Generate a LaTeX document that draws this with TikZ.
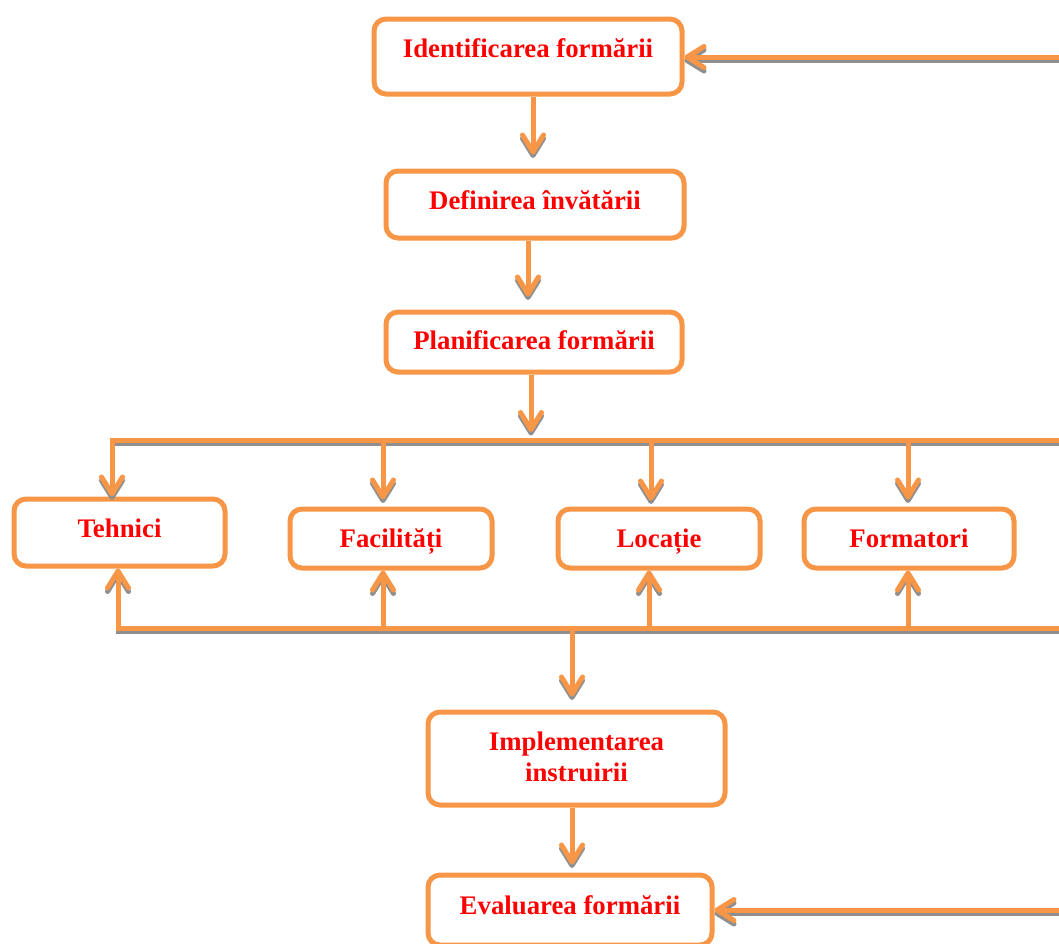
\documentclass[tikz,border=0pt]{standalone}
\usepackage{fontspec}
\setmainfont{Liberation Serif}
\usetikzlibrary{arrows.meta}
\definecolor{boxorange}{HTML}{F79646}
\definecolor{labelred}{HTML}{FF0000}
\definecolor{shade}{HTML}{8F8F8F}
\tikzset{
  stepbox/.style={draw=boxorange, line width=5pt, rounded corners=12pt,
    inner sep=0pt, outer sep=2.5pt, fill=white},
  lbl/.style={anchor=base, text=labelred, inner sep=0pt,
    font=\fontsize{26.8}{31}\selectfont\bfseries},
  conn/.style={draw=boxorange, line width=5pt,
    -{Straight Barb[length=17pt,width=21pt,round]}},
  connshadow/.style={draw=shade, line width=5pt,
    -{Straight Barb[length=17pt,width=21pt,round]}},
}
% every connector of the chart; the argument is the line style
\newcommand\chartconnectors[1]{%
  % main sequence
  \draw[#1, shorten >=14pt] ([xshift=5pt]b1.south) -- ([xshift=5pt]b1.south |- b2.north);
  \draw[#1, shorten >=13pt] ([xshift=-7pt]b2.south) -- ([xshift=-7pt]b2.south |- b3.north);
  \draw[#1, shorten >=8pt] ([xshift=-3pt]b3.south) -- ([xshift=-3pt]b3.south |- d4);
  % distribution rail and drops
  \draw[#1] (topR) -- (d4) -- (d4 |- b4.north);
  \draw[#1, shorten >=7pt] (d5) -- (d5 |- b5.north);
  \draw[#1, shorten >=6pt] (d6) -- (d6 |- b6.north);
  \draw[#1, shorten >=7pt] (d7) -- (d7 |- b7.north);
  % collection rail and rises
  \draw[#1] (botR) -- (u4) -- (u4 |- b4.south);
  \draw[#1] (u5) -- (u5 |- b5.south);
  \draw[#1] (u6) -- (u6 |- b6.south);
  \draw[#1] (u7) -- (u7 |- b7.south);
  \draw[#1, shorten >=13pt] (dn) -- (dn |- b8.north);
  \draw[#1, shorten >=8pt] ([xshift=-4.5pt]b8.south) -- ([xshift=-4.5pt]b8.south |- b9.north);
  % feedback arrows
  \draw[#1] (fb1) -- (b1.east |- fb1);
  \draw[#1] (fb2) -- (b9.east |- fb2);
}
\begin{document}
\begin{tikzpicture}[x=1pt, y=-1pt]
\useasboundingbox (0,0) rectangle (1059,943);
\clip (0,0) rectangle (1059,943);

% boxes
\node[stepbox, minimum width=308pt, minimum height=75pt] (b1) at (528,56.5) {};
\node[stepbox, minimum width=298pt, minimum height=67pt] (b2) at (535,204.5) {};
\node[stepbox, minimum width=296pt, minimum height=60pt] (b3) at (534,342) {};
\node[stepbox, minimum width=211pt, minimum height=67pt] (b4) at (119.5,532.5) {};
\node[stepbox, minimum width=202pt, minimum height=59pt] (b5) at (391,538.5) {};
\node[stepbox, minimum width=202pt, minimum height=59pt] (b6) at (659,538.5) {};
\node[stepbox, minimum width=210pt, minimum height=59pt] (b7) at (909,538.5) {};
\node[stepbox, minimum width=297pt, minimum height=93pt] (b8) at (576.5,758.5) {};
\node[stepbox, minimum width=284pt, minimum height=70pt] (b9) at (570,910) {};

% labels
\node[lbl] (t1) at (528,57) {Identificarea formării};
\node[lbl] (t2) at (535,209) {Definirea învătării};
\node[lbl] (t3) at (534,349) {Planificarea formării};
\node[lbl] (t4) at (119.5,537) {Tehnici};
\node[lbl] (t5) at (391,547) {Facilități};
\node[lbl] (t6) at (659,547) {Locație};
\node[lbl] (t7) at (909,547) {Formatori};
\node[lbl] (t8a) at (576.5,750) {Implementarea};
\node[lbl] (t8b) at (576.5,781) {instruirii};
\node[lbl] (t9) at (570,914) {Evaluarea formării};

% rail junction points
\coordinate (topR) at (1075,440);
\coordinate (botR) at (1075,628);
\coordinate (d4) at (112,440);
\coordinate (d5) at (383,440);
\coordinate (d6) at (651,440);
\coordinate (d7) at (908,440);
\coordinate (u4) at (118,628);
\coordinate (u5) at (383,628);
\coordinate (u6) at (649,628);
\coordinate (u7) at (908,628);
\coordinate (dn) at (572,628);
\coordinate (fb1) at (1075,57);
\coordinate (fb2) at (1075,910);

% drop shadow first, then the orange lines on top
\begin{scope}[transform canvas={yshift=-3.5pt}]
  \chartconnectors{connshadow}
\end{scope}
\chartconnectors{conn}
\end{tikzpicture}
\end{document}
